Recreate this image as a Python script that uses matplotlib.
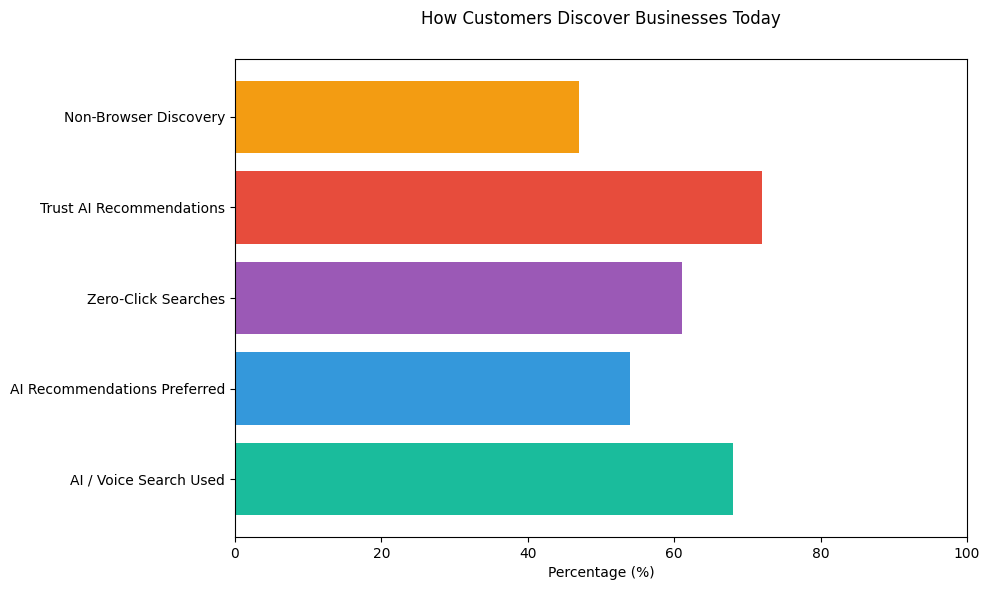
import matplotlib.pyplot as plt

categories = ['AI / Voice Search Used', 'AI Recommendations Preferred',
              'Zero-Click Searches', 'Trust AI Recommendations',
              'Non-Browser Discovery']
values = [68, 54, 61, 72, 47]
colors = ['#1abc9c', '#3498db', '#9b59b6', '#e74c3c', '#f39c12']

fig, ax = plt.subplots(figsize=(9.89, 5.9), dpi=100)
fig.subplots_adjust(left=0.2376, right=0.9778, top=0.9, bottom=0.0898)
ax.barh(categories, values, color=colors)
ax.set_xlim(0, 100)
ax.set_xlabel('Percentage (%)')
ax.set_title('How Customers Discover Businesses Today', pad=25)

fig.savefig('out.png', dpi=100)
